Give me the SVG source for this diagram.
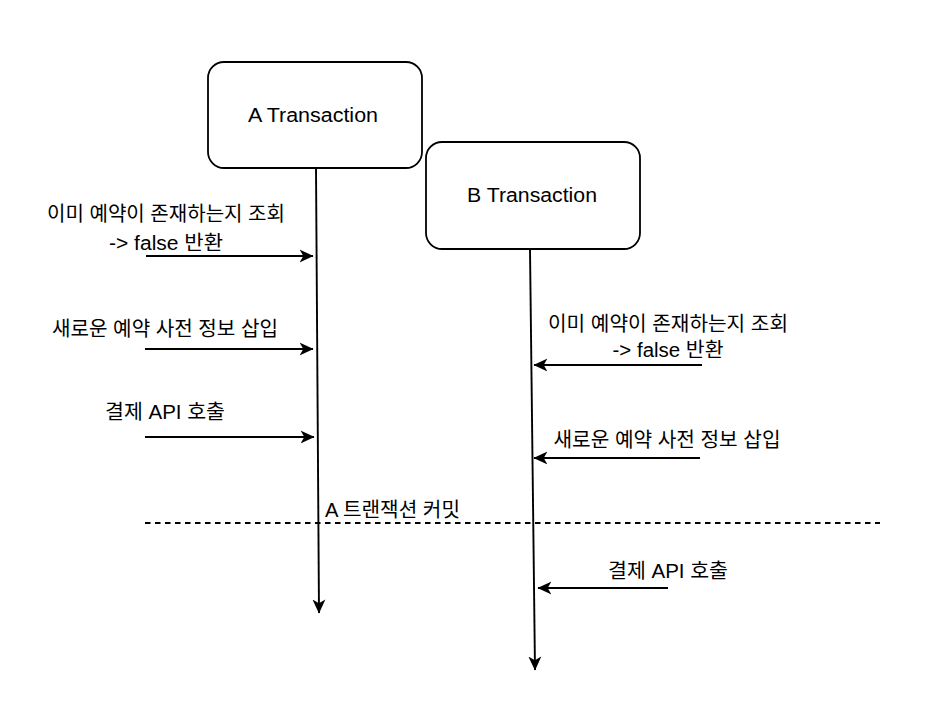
<svg xmlns="http://www.w3.org/2000/svg" width="932" height="722" viewBox="0 0 932 722">
<style>
.box{fill:#fff;stroke:#000;stroke-width:1.8}
.ln{fill:none;stroke:#000;stroke-width:1.9}
.t{font-family:"Liberation Sans","Noto Sans CJK KR",Arial,sans-serif;font-size:20px;fill:#000}
.m{text-anchor:middle}
</style>
<defs>
<marker id="ah" markerUnits="userSpaceOnUse" markerWidth="14" markerHeight="14" viewBox="0 0 13 13" refX="12.5" refY="6.5" orient="auto">
<path d="M0,0.5 L13,6.5 L0,12.5 L3.5,6.5 z" fill="#000"/>
</marker>
</defs>
<rect width="932" height="722" fill="#fff"/>
<g id="nodeA">
<rect class="box" x="208" y="62" width="214" height="106" rx="16"/>
<text class="t m" x="313" y="122" textLength="130" lengthAdjust="spacingAndGlyphs">A Transaction</text>
</g>
<g id="nodeB">
<rect class="box" x="426" y="142" width="214" height="107" rx="16"/>
<text class="t m" x="532" y="202" textLength="130" lengthAdjust="spacingAndGlyphs">B Transaction</text>
</g>
<g id="connectors">
<line class="ln" x1="316" y1="168" x2="319" y2="613" marker-end="url(#ah)"/>
<line class="ln" x1="530" y1="249" x2="535" y2="670" marker-end="url(#ah)"/>
<line class="ln" x1="146" y1="256" x2="313" y2="256" marker-end="url(#ah)"/>
<line class="ln" x1="145" y1="349" x2="313" y2="349" marker-end="url(#ah)"/>
<line class="ln" x1="145" y1="437" x2="314" y2="437" marker-end="url(#ah)"/>
<line class="ln" x1="702" y1="365" x2="534" y2="365" marker-end="url(#ah)"/>
<line class="ln" x1="700" y1="458" x2="534" y2="458" marker-end="url(#ah)"/>
<line class="ln" x1="668" y1="588" x2="538" y2="588" marker-end="url(#ah)"/>
<line class="ln" x1="145" y1="523" x2="880" y2="523" stroke-width="1.6" stroke-dasharray="5.5 4.5"/>
</g>
<g id="labels">
<text class="t m" x="166" y="221" textLength="238" lengthAdjust="spacingAndGlyphs">이미 예약이 존재하는지 조회</text>
<text class="t m" x="166" y="250" textLength="114" lengthAdjust="spacingAndGlyphs">-&gt; false 반환</text>
<text class="t m" x="165" y="336" textLength="226" lengthAdjust="spacingAndGlyphs">새로운 예약 사전 정보 삽입</text>
<text class="t m" x="165" y="419" textLength="120" lengthAdjust="spacingAndGlyphs">결제 API 호출</text>
<text class="t m" x="668" y="331" textLength="240" lengthAdjust="spacingAndGlyphs">이미 예약이 존재하는지 조회</text>
<text class="t m" x="668" y="357" textLength="111" lengthAdjust="spacingAndGlyphs">-&gt; false 반환</text>
<text class="t m" x="667" y="447" textLength="227" lengthAdjust="spacingAndGlyphs">새로운 예약 사전 정보 삽입</text>
<text class="t m" x="668" y="578" textLength="120" lengthAdjust="spacingAndGlyphs">결제 API 호출</text>
<text class="t" x="325" y="517" textLength="135" lengthAdjust="spacingAndGlyphs">A 트랜잭션 커밋</text>
</g>
</svg>
